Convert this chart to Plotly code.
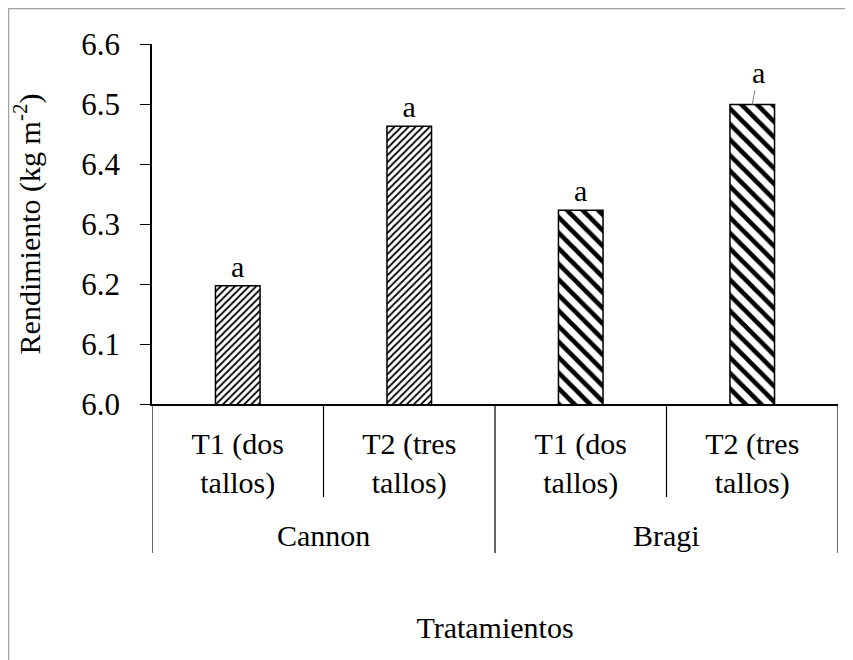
import plotly.graph_objects as go

varieties = ["Cannon", "Cannon", "Bragi", "Bragi"]
treatments = ["T1 (dos<br>tallos)", "T2 (tres<br>tallos)", "T1 (dos<br>tallos)", "T2 (tres<br>tallos)"]
yields = [6.197, 6.463, 6.323, 6.499]
letters = ["a", "a", "a", "a"]
letter_has_leader = [False, False, False, True]
y_ticks = [6.0, 6.1, 6.2, 6.3, 6.4, 6.5, 6.6]

# the page body has an 8px margin, so the figure is drawn 8px right/down
OFF = 8
W, H = 853 - OFF, 660 - OFF
ml, mr, mt, mb = 152 - OFF, 15, 44 - OFF, H - (404 - OFF)
pw, ph = W - ml - mr, H - mt - mb

FONT = "Liberation Serif"
FS = 30

idx = list(range(len(treatments)))
pattern_by_variety = {"Cannon": ("/", 5, 0.35), "Bragi": ("\\", 11, 0.42)}

fig = go.Figure()
fig.add_trace(go.Bar(
    x=idx,
    y=yields,
    width=0.26,
    text=[("" if lead else t) for t, lead in zip(letters, letter_has_leader)],
    textposition="outside",
    textfont=dict(family=FONT, size=FS, color="black"),
    cliponaxis=False,
    marker=dict(
        color="white",
        line=dict(color="black", width=1.5),
        pattern=dict(
            shape=[pattern_by_variety[v][0] for v in varieties],
            size=[pattern_by_variety[v][1] for v in varieties],
            solidity=[pattern_by_variety[v][2] for v in varieties],
            fgcolor="black", bgcolor="white", fillmode="replace", fgopacity=1,
        ),
    ),
    showlegend=False,
))

def px_to_paper_x(px):
    return (px - OFF - ml) / pw

def px_to_paper_y(py):
    return (H - mb - (py - OFF)) / ph

shapes = []
# category dividers below the axis
n = len(varieties)
for i in range(n + 1):
    outer = i == 0 or i == n or varieties[i] != varieties[i - 1]
    shapes.append(dict(type="line", xref="x", yref="paper",
                       x0=i - 0.5, x1=i - 0.5, y0=0,
                       y1=px_to_paper_y(553 if outer else 497),
                       line=dict(color="black", width=1.2)))

annotations = []
# letters placed away from their bar, with a leader line
for i in idx:
    if letter_has_leader[i]:
        annotations.append(dict(x=i, y=yields[i], xref="x", yref="y",
                                text=letters[i], showarrow=True, arrowhead=0,
                                arrowwidth=1, arrowcolor="#7f7f7f",
                                ax=6, ay=-32, standoff=0, startstandoff=0,
                                font=dict(family=FONT, size=FS, color="black")))

# group labels
groups = []
for v in varieties:
    if v not in groups:
        groups.append(v)
for g in groups:
    members = [i for i, v in enumerate(varieties) if v == g]
    annotations.append(dict(x=sum(members) / len(members), xref="x",
                            y=px_to_paper_y(535), yref="paper",
                            text=g, showarrow=False, yanchor="middle",
                            font=dict(family=FONT, size=FS, color="black")))

border = dict(color="#a0a0a0", width=1.5)
shapes += [
    dict(type="line", xref="paper", yref="paper",
         x0=px_to_paper_x(8.5), x1=px_to_paper_x(8.5),
         y0=px_to_paper_y(660), y1=px_to_paper_y(8.5), line=border, layer="below"),
    dict(type="line", xref="paper", yref="paper",
         x0=px_to_paper_x(8.5), x1=px_to_paper_x(845),
         y0=px_to_paper_y(8.5), y1=px_to_paper_y(8.5), line=border, layer="below"),
]

fig.update_layout(
    width=W, height=H,
    margin=dict(l=ml, r=mr, t=mt, b=mb, autoexpand=False),
    paper_bgcolor="white", plot_bgcolor="white",
    font=dict(family=FONT, size=FS, color="black"),
    xaxis=dict(
        automargin=False,
        range=[-0.5, n - 0.5],
        tickvals=idx, ticktext=treatments,
        showline=True, linecolor="black", linewidth=1.5,
        ticks="", ticklabelstandoff=12,
        tickfont=dict(family=FONT, size=FS, color="black"),
        showgrid=False, zeroline=False,
        title=dict(text="Tratamientos", font=dict(family=FONT, size=FS), standoff=118),
    ),
    yaxis=dict(
        automargin=False,
        range=[6.0, 6.6], tickvals=y_ticks, tickformat=".1f",
        showline=True, linecolor="black", linewidth=1.5,
        ticks="outside", ticklen=10, tickcolor="black", tickwidth=1.2,
        ticklabelstandoff=14,
        showgrid=False, zeroline=False,
        tickfont=dict(family=FONT, size=31, color="black"),
        title=dict(text="Rendimiento (kg m<sup>-2</sup>)", font=dict(family=FONT, size=FS), standoff=40),
    ),
    shapes=shapes,
    annotations=annotations,
)

fig.write_html("out.html")
